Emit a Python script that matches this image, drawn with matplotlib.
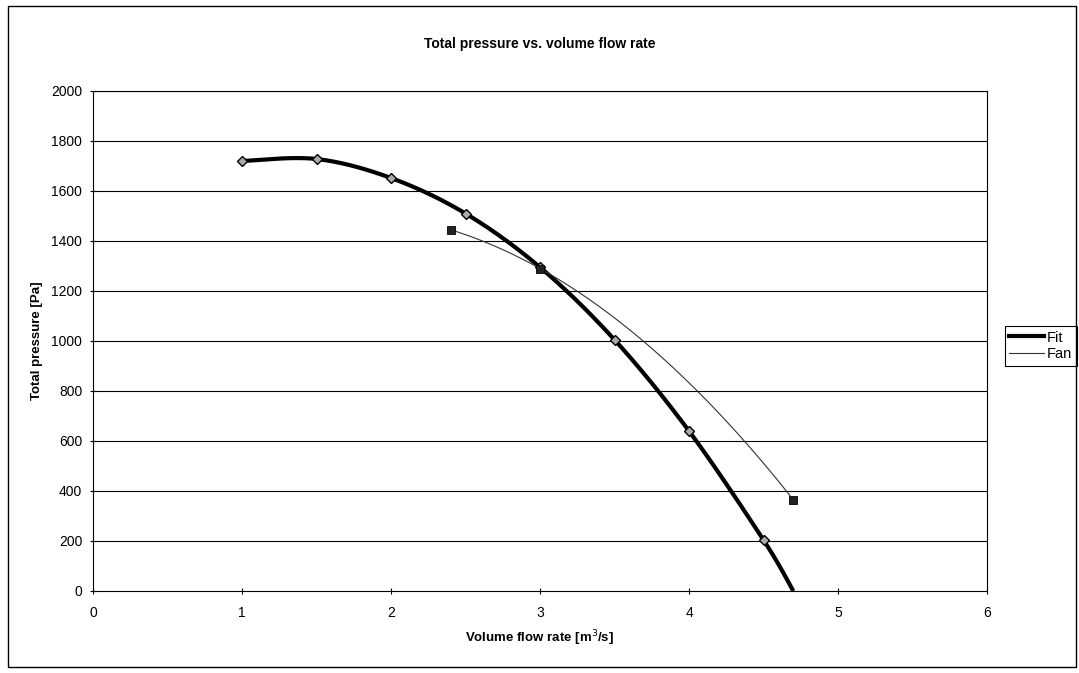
import numpy as np
import matplotlib
matplotlib.use('Agg')
import matplotlib.pyplot as plt
from matplotlib.lines import Line2D
from matplotlib.patches import Rectangle

plt.rcParams['font.family'] = ['Liberation Sans', 'DejaVu Sans']

# data
fit_x = [1.0, 1.5, 2.0, 2.5, 3.0, 3.5, 4.0, 4.5, 4.7]
fit_y = [1720, 1728, 1652, 1510, 1295, 1005, 640, 204, 0]
fan_x = [2.4, 3.0, 4.7]
fan_y = [1445, 1290, 365]
y_ticks = [0, 200, 400, 600, 800, 1000, 1200, 1400, 1600, 1800, 2000]
x_ticks = [0, 1, 2, 3, 4, 5, 6]


def smooth(xs, ys, n=40):
    # Excel-style smoothed line: cubic bezier between points
    pts = np.column_stack([xs, ys]).astype(float)
    out = []
    for i in range(len(pts) - 1):
        p0 = pts[max(i - 1, 0)]
        p1 = pts[i]
        p2 = pts[i + 1]
        p3 = pts[min(i + 2, len(pts) - 1)]
        c1 = p1 + (p2 - p0) / 6.0
        c2 = p2 - (p3 - p1) / 6.0
        t = np.linspace(0, 1, n)[:, None]
        seg = ((1 - t) ** 3) * p1 + 3 * ((1 - t) ** 2) * t * c1 + 3 * (1 - t) * t ** 2 * c2 + t ** 3 * p2
        out.append(seg if i == 0 else seg[1:])
    out = np.vstack(out)
    return out[:, 0], out[:, 1]


W, H = 1079, 673
fig = plt.figure(figsize=(W / 100, H / 100), dpi=100)
ax = fig.add_axes([93 / W, 1 - 591 / H, (987 - 93) / W, (591 - 91) / H])

# outer chart border
fig.patches.append(Rectangle((8 / W, 1 - 667 / H), (1076 - 8) / W, (667 - 6) / H,
                             transform=fig.transFigure, fill=False, lw=1.0, ec='black'))

for yv in y_ticks[1:]:
    ax.axhline(yv, color='black', lw=0.8, zorder=1)

sx, sy = smooth(fit_x, fit_y)
ax.plot(sx, sy, color='black', lw=3.0, zorder=3, solid_capstyle='butt')
ax.plot(fit_x[:-1], fit_y[:-1], ls='none', marker='D', ms=5, mfc='#aaaaaa', mec='black', mew=1.0, zorder=4)

# fan curve: quadratic through the three fan points
coef = np.polyfit(fan_x, fan_y, 2)
fx = np.linspace(fan_x[0], fan_x[-1], 200)
ax.plot(fx, np.polyval(coef, fx), color='#333333', lw=0.8, zorder=3)
ax.plot(fan_x, fan_y, ls='none', marker='s', ms=5.5, mfc='#222222', mec='black', mew=0.6, zorder=4)

ax.set_xlim(0, 6)
ax.set_ylim(0, 2000)
ax.set_xticks(x_ticks)
ax.set_yticks(y_ticks)
ax.tick_params(direction='inout', length=4.5, width=0.8, labelsize=10, color='black')
ax.tick_params(axis='y', pad=5.5)
ax.tick_params(axis='x', pad=8.5)
for s in ax.spines.values():
    s.set_linewidth(0.8)
    s.set_color('black')

ax.set_title('Total pressure vs. volume flow rate', fontsize=10, fontweight='bold', pad=31)
ax.set_xlabel('Volume flow rate [m$^3$/s]', fontsize=9.5, fontweight='bold', labelpad=6)
ax.set_ylabel('Total pressure [Pa]', fontsize=9.5, fontweight='bold', labelpad=6)

handles = [Line2D([], [], color='black', lw=3.0), Line2D([], [], color='#333333', lw=0.8)]
leg = ax.legend(handles, ['Fit', 'Fan'], loc='center left', bbox_to_anchor=(1.02, 0.49),
                fontsize=10.5, frameon=True, fancybox=False, framealpha=1,
                edgecolor='black', handlelength=2.4, handletextpad=0.2,
                borderpad=0.3, labelspacing=0.2, borderaxespad=0)
leg.get_frame().set_linewidth(0.8)

fig.savefig('out.png', dpi=100)
